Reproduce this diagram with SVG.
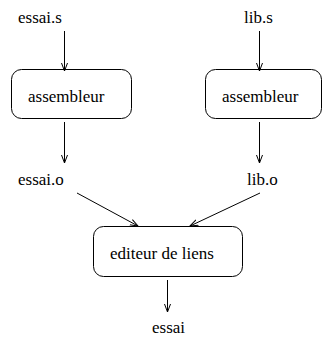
<svg xmlns="http://www.w3.org/2000/svg" width="324" height="339" viewBox="0 0 324 339">
<defs>
<marker id="ah" markerUnits="userSpaceOnUse" markerWidth="10" markerHeight="8" refX="8" refY="3" orient="auto" viewBox="0 0 10 6">
<path d="M0,0 L8,3 L0,6" fill="none" stroke="#000" stroke-width="1"/>
</marker>
<style>
.box{fill:#fff;stroke:#000;stroke-width:1}
.t{font-family:"Liberation Serif","Times New Roman",serif;font-size:17px;fill:#000}
.c line{stroke:#000;stroke-width:1;marker-end:url(#ah)}
</style>
</defs>
<rect width="324" height="339" fill="#fff"/>
<g id="essai_s"><text class="t" x="18" y="23">essai.s</text></g>
<g id="lib_s"><text class="t" x="244" y="23">lib.s</text></g>
<g id="asm1"><rect class="box" x="11.5" y="69.5" width="120" height="49" rx="10"/><text class="t" x="28" y="102">assembleur</text></g>
<g id="asm2"><rect class="box" x="205.5" y="69.5" width="116" height="49" rx="10"/><text class="t" x="222" y="102">assembleur</text></g>
<g id="essai_o"><text class="t" x="18" y="185">essai.o</text></g>
<g id="lib_o"><text class="t" x="247" y="185">lib.o</text></g>
<g id="linker"><rect class="box" x="93.5" y="226.5" width="149" height="50" rx="10"/><text class="t" x="110" y="259">editeur de liens</text></g>
<g id="essai"><text class="t" x="152" y="333">essai</text></g>
<g class="c" id="connectors">
<line x1="64.5" y1="31" x2="64.5" y2="71"/>
<line x1="64.5" y1="122" x2="64.5" y2="163"/>
<line x1="259.5" y1="31" x2="259.5" y2="71"/>
<line x1="259.5" y1="122" x2="259.5" y2="163"/>
<line x1="77" y1="193" x2="138" y2="226"/>
<line x1="260" y1="193" x2="190" y2="226"/>
<line x1="167.5" y1="280" x2="167.5" y2="312"/>
</g>
</svg>
